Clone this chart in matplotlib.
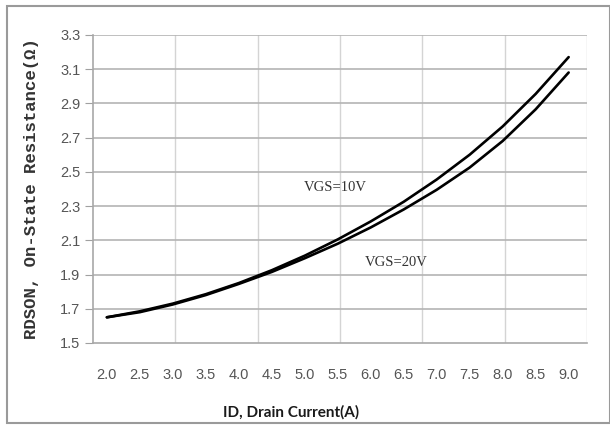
import numpy as np
import matplotlib
matplotlib.use("Agg")
import matplotlib.pyplot as plt
from matplotlib.patches import Rectangle

# drain current (A) and on-state resistance (ohm)
id_amps = [2.0, 2.5, 3.0, 3.5, 4.0, 4.5, 5.0, 5.5, 6.0, 6.5, 7.0, 7.5, 8.0, 8.5, 9.0]
rds_10v = [1.65, 1.685, 1.73, 1.785, 1.85, 1.925, 2.01, 2.105, 2.21, 2.325, 2.455, 2.60, 2.765, 2.955, 3.17]
rds_20v = [1.65, 1.68, 1.725, 1.78, 1.845, 1.915, 1.995, 2.08, 2.175, 2.28, 2.395, 2.525, 2.68, 2.865, 3.08]
x_labels = ["%.1f" % v for v in id_amps]
y_ticks = [1.5, 1.7, 1.9, 2.1, 2.3, 2.5, 2.7, 2.9, 3.1, 3.3]

fig = plt.figure(figsize=(6.1, 4.25), dpi=100)
ax = fig.add_axes([0.1525, 0.193, 0.81, 0.725])

xmin, xmax = 1.79, 9.28
ax.set_xlim(xmin, xmax)
ax.set_ylim(1.5, 3.3)

ax.plot(id_amps, rds_10v, color="black", lw=1.9, solid_capstyle="round", solid_joinstyle="round")
ax.plot(id_amps, rds_20v, color="black", lw=1.9, solid_capstyle="round", solid_joinstyle="round")

# vertical grid not aligned with labels (like the original)
for gx in np.linspace(xmin, xmax, 7)[1:]:
    ax.axvline(gx, color="#d4d4d4", lw=1, zorder=0)
for gy in y_ticks[1:]:
    ax.axhline(gy, color="#b4b4b4", lw=1.2, zorder=0)

tick_font = ["Liberation Sans", "DejaVu Sans"]
ax.set_xticks(id_amps)
ax.set_xticklabels(x_labels, family=tick_font, fontsize=10.5, color="#555555")
ax.tick_params(axis="x", length=0, pad=18)
ax.set_yticks(y_ticks)
ax.set_yticklabels(["%.1f" % v for v in y_ticks], family=tick_font, fontsize=10.5, color="#555555")
ax.tick_params(axis="y", length=6, color="#a0a0a0", pad=3)

for s in ["top", "right"]:
    ax.spines[s].set_visible(False)
for s in ["left", "bottom"]:
    ax.spines[s].set_color("#a8a8a8")
    ax.spines[s].set_linewidth(1.2)

ax.set_ylabel("RDSON, On-State Resistance(Ω)", family=["Liberation Mono", "DejaVu Sans Mono"],
              fontsize=12.5, fontweight="bold", color="#333333")
ax.yaxis.set_label_coords(-0.11, 0.5)
ax.set_xlabel("ID, Drain Current(A)", family=["Lato", "DejaVu Sans"],
              fontsize=11, fontweight="bold", color="#1a1a1a")
ax.xaxis.set_label_coords(0.40, -0.2)

ax.text(5.47, 2.41, "VGS=10V", family=["Liberation Serif", "DejaVu Serif"],
        fontsize=10.5, color="#333333", ha="center", va="center")
ax.text(6.39, 1.97, "VGS=20V", family=["Liberation Serif", "DejaVu Serif"],
        fontsize=10.5, color="#333333", ha="center", va="center")

fig.patches.append(Rectangle((7 / 610, 2 / 425), 603 / 610, 417 / 425, transform=fig.transFigure,
                             fill=False, edgecolor="#9a9a9a", lw=1.5))

fig.savefig("out.png", dpi=100)
